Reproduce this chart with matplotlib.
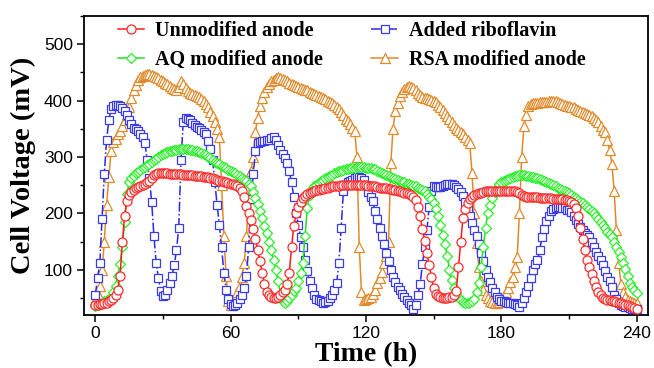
import matplotlib.pyplot as plt
import numpy as np
from matplotlib.ticker import MultipleLocator

# time axis, one reading per hour
time_h = np.arange(0, 241)

# cell voltage (mV)
unmodified = [
    38, 38, 39, 40, 41, 42, 44, 46, 50, 55,
    65, 90, 150, 195, 222, 233, 238, 242, 245, 247,
    249, 251, 253, 255, 258, 262, 268, 270, 271, 271,
    271, 271, 271, 270, 270, 270, 270, 270, 270, 269,
    269, 269, 268, 268, 267, 267, 266, 266, 265, 265,
    264, 263, 262, 261, 260, 258, 257, 256, 255, 254,
    253, 252, 251, 249, 246, 240, 230, 214, 200, 188,
    172, 155, 135, 115, 95, 75, 60, 55, 52, 51,
    50, 52, 55, 60, 65, 75, 95, 140, 178, 200,
    212, 220, 227, 231, 234, 236, 238, 240, 241, 242,
    243, 244, 245, 246, 247, 248, 248, 249, 249, 250,
    250, 250, 250, 250, 250, 250, 250, 250, 250, 250,
    250, 249, 249, 248, 248, 247, 246, 246, 245, 245,
    244, 243, 242, 241, 240, 239, 238, 237, 236, 234,
    233, 230, 224, 212, 195, 172, 152, 130, 108, 88,
    68, 57, 53, 52, 51, 51, 51, 52, 52, 55,
    63, 105, 150, 192, 208, 218, 225, 229, 232, 235,
    236, 237, 238, 239, 239, 240, 240, 240, 240, 240,
    240, 240, 240, 240, 240, 240, 239, 238, 236, 233,
    231, 230, 229, 229, 229, 229, 229, 228, 228, 228,
    228, 227, 227, 226, 226, 226, 225, 225, 224, 223,
    222, 220, 216, 210, 195, 175, 155, 135, 118, 105,
    92, 80, 70, 61, 55, 51, 49, 47, 46, 45,
    44, 43, 42, 41, 40, 38, 37, 36, 35, 33,
    30,
]

riboflavin = [
    55, 85, 112, 190, 270, 330, 365, 385, 390, 393,
    393, 391, 387, 382, 375, 365, 358, 352, 349, 346,
    340, 336, 325, 295, 262, 220, 160, 112, 85, 62,
    54, 55, 65, 77, 90, 108, 135, 175, 295, 362,
    369, 368, 365, 360, 357, 354, 351, 348, 345, 340,
    329, 315, 295, 255, 215, 180, 140, 95, 65, 48,
    40, 36, 37, 42, 48, 55, 68, 90, 140, 225,
    270, 310, 324, 327, 328, 329, 330, 331, 333, 335,
    330, 322, 312, 305, 298, 290, 275, 255, 229, 200,
    180, 158, 140, 118, 98, 80, 68, 55, 48, 46,
    44, 42, 43, 45, 50, 56, 65, 77, 112, 175,
    240, 250, 255, 258, 260, 262, 265, 264, 262, 259,
    250, 238, 229, 222, 205, 190, 175, 160, 145, 130,
    115, 100, 88, 78, 70, 64, 58, 52, 47, 42,
    37, 31, 38, 55, 75, 110, 140, 170, 211, 240,
    248, 247, 247, 247, 248, 250, 252, 253, 252, 250,
    247, 243, 238, 231, 220, 208, 196, 183, 170, 160,
    145, 130, 115, 100, 88, 78, 68, 60, 52, 48,
    45, 44, 43, 42, 42, 42, 40, 38, 35, 42,
    50, 60, 72, 85, 100, 110, 117, 135, 158, 172,
    187, 196, 204, 208, 210, 211, 211, 210, 209, 207,
    206, 203, 196, 188, 182, 176, 170, 166, 162, 158,
    150, 140, 132, 125, 118, 108, 98, 88, 80, 70,
    56, 48, 42, 38, 36, 35, 34, 32, 31, 30,
    30,
]

aq_modified = [
    36, 38, 40, 42, 44, 46, 49, 52, 60, 72,
    90, 110, 140, 185, 235, 255, 262, 267, 271, 274,
    277, 280, 283, 286, 288, 291, 294, 297, 300, 303,
    305, 307, 309, 310, 311, 312, 313, 314, 315, 315,
    315, 314, 313, 312, 311, 310, 309, 307, 305, 303,
    300, 298, 295, 292, 290, 288, 285, 282, 280, 277,
    275, 273, 271, 269, 266, 263, 260, 257, 253, 248,
    238, 228, 216, 205, 192, 178, 165, 150, 135, 118,
    100, 80, 58, 44, 42, 45, 50, 55, 62, 68,
    80, 95, 112, 160, 210, 232, 243, 248, 251, 254,
    257, 259, 262, 264, 267, 269, 271, 273, 275, 276,
    277, 278, 279, 280, 281, 281, 282, 282, 282, 282,
    281, 281, 280, 279, 278, 276, 273, 272, 270, 268,
    267, 265, 263, 261, 259, 257, 256, 255, 253, 252,
    250, 249, 248, 246, 244, 242, 239, 235, 230, 225,
    218, 208, 195, 180, 162, 145, 125, 100, 82, 68,
    59, 52, 47, 43, 42, 42, 43, 45, 48, 60,
    77, 105, 140, 175, 200, 215, 228, 238, 245, 252,
    255, 257, 259, 261, 263, 265, 266, 267, 268, 268,
    268, 267, 266, 265, 264, 263, 262, 261, 260, 258,
    256, 254, 252, 250, 248, 246, 244, 242, 240, 238,
    236, 233, 230, 227, 224, 221, 218, 215, 212, 208,
    204, 200, 195, 190, 185, 180, 174, 168, 163, 158,
    150, 141, 132, 123, 113, 102, 90, 77, 70, 64,
    59,
]

rsa_modified = [
    47, 58, 71, 100, 150, 215, 265, 310, 326, 332,
    340, 347, 355, 365, 375, 388, 405, 418, 428, 437,
    441, 444, 446, 447, 447, 446, 444, 442, 440, 437,
    435, 432, 429, 426, 423, 420, 418, 425, 435, 430,
    422, 417, 414, 412, 410, 408, 406, 402, 399, 394,
    388, 380, 372, 362, 350, 335, 250, 160, 90, 45,
    38, 42, 50, 60, 72, 88, 112, 160, 229, 275,
    300, 345, 370, 390, 405, 415, 424, 430, 434, 437,
    440, 441, 440, 438, 436, 434, 432, 430, 428, 426,
    424, 423, 421, 419, 418, 416, 414, 412, 410, 408,
    407, 405, 402, 400, 398, 396, 392, 388, 385, 380,
    375, 368, 363, 358, 352, 347, 300, 141, 60, 47,
    48, 50, 52, 58, 65, 77, 85, 97, 112, 125,
    150, 290, 350, 382, 395, 408, 415, 420, 424, 426,
    425, 422, 418, 414, 410, 407, 405, 404, 402, 401,
    400, 397, 393, 388, 383, 378, 373, 368, 362, 357,
    352, 348, 344, 341, 335, 330, 324, 271, 200, 147,
    105, 80, 65, 55, 50, 45, 43, 42, 42, 43,
    46, 52, 60, 68, 78, 88, 105, 123, 200, 300,
    355, 375, 390, 394, 395, 396, 396, 397, 397, 397,
    398, 399, 400, 400, 399, 398, 396, 394, 392, 391,
    390, 389, 388, 386, 384, 382, 380, 378, 376, 374,
    372, 369, 366, 362, 355, 348, 345, 330, 312, 288,
    240, 170, 112, 75, 60, 52, 47, 45, 43, 42,
    42,
]

fig = plt.figure(figsize=(6.54, 3.68), dpi=100)
ax = fig.add_axes([84 / 654, 1 - 315 / 368, (648 - 84) / 654, (315 - 16) / 368])

ms = 6.5
mew = 0.9
lw = 1.1

ax.plot(time_h, rsa_modified, '-', color='#e08a2c', lw=lw, marker='^', ms=ms + 0.5,
        mfc='white', mec='#e08a2c', mew=mew, label='RSA modified anode', zorder=2)
ax.plot(time_h, riboflavin, '-.', color='#2a2ae6', lw=lw, marker='s', ms=ms - 0.5,
        mfc='white', mec='#3a3aee', mew=mew, label='Added riboflavin', zorder=3)
ax.plot(time_h, aq_modified, '-', color='#22e022', lw=lw, marker='D', ms=ms - 1,
        mfc='white', mec='#2aee2a', mew=mew, label='AQ modified anode', zorder=4)
ax.plot(time_h, unmodified, '-', color='#ff1a1a', lw=lw, marker='o', ms=ms,
        mfc='white', mec='#ff2a2a', mew=mew, label='Unmodified anode', zorder=5)

ax.set_xlim(-5, 245)
ax.set_ylim(20, 550)
ax.xaxis.set_major_locator(MultipleLocator(60))
ax.xaxis.set_minor_locator(MultipleLocator(30))
ax.yaxis.set_major_locator(MultipleLocator(100))
ax.yaxis.set_minor_locator(MultipleLocator(50))
ax.set_yticks([100, 200, 300, 400, 500])

ax.tick_params(which='major', direction='out', length=5, width=1.1,
               labelsize=12.5, pad=3)
ax.tick_params(which='minor', direction='out', length=3, width=1.0)
for lab in ax.get_xticklabels() + ax.get_yticklabels():
    lab.set_family('Liberation Sans')

for sp in ax.spines.values():
    sp.set_linewidth(1.3)

ax.set_xlabel('Time (h)', family='Liberation Serif', fontweight='bold',
              fontsize=20, labelpad=1)
ax.set_ylabel('Cell Voltage (mV)', family='Liberation Serif', fontweight='bold',
              fontsize=20.5, labelpad=6)

handles, labels = ax.get_legend_handles_labels()
order = [3, 2, 1, 0]
ax.legend([handles[i] for i in order], [labels[i] for i in order],
          ncol=2, frameon=False, loc='upper left',
          bbox_to_anchor=(118 / 654, 1 - 21 / 368), bbox_transform=fig.transFigure,
          borderaxespad=0, borderpad=0, handlelength=1.3, handletextpad=0.55,
          columnspacing=2.4, labelspacing=0.45, numpoints=1,
          prop={'family': 'Liberation Serif', 'weight': 'bold', 'size': 14.5})

fig.savefig('out.png', dpi=100)
